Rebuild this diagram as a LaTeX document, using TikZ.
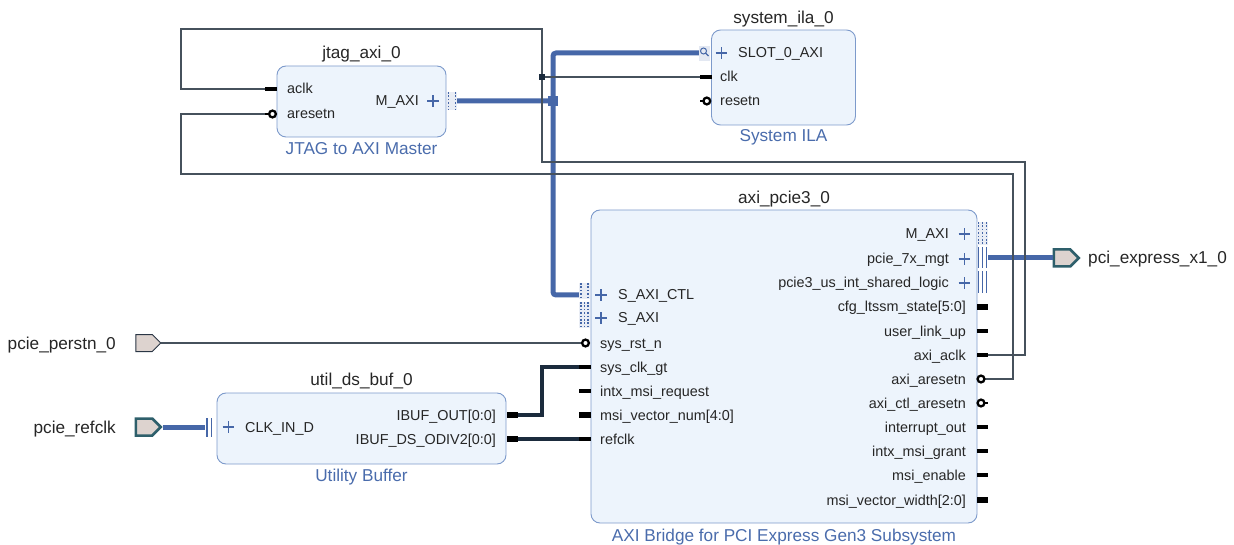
\documentclass[tikz,border=0pt]{standalone}
\usepackage{fontspec}
\setmainfont{Liberation Sans}
\usetikzlibrary{shapes.symbols}
\definecolor{boxfill}{HTML}{EDF4FC}
\definecolor{boxline}{HTML}{7D9ACB}
\definecolor{busblue}{HTML}{4667A8}
\definecolor{subblue}{HTML}{4A6CAC}
\definecolor{wiregray}{HTML}{46515C}
\definecolor{netnavy}{HTML}{1B2B3D}
\definecolor{portfill}{HTML}{DDD3CF}
\definecolor{portteal}{HTML}{2E5F6B}
\definecolor{portdark}{HTML}{2A3645}
\begin{document}
\begin{tikzpicture}[x=1pt,y=-1pt]
    \tikzset{ipblock/.style = {draw=boxline, fill=boxfill, line width=0.9pt, rounded corners=9pt}}
    \tikzset{ipname/.style = {font=\fontsize{17.2}{19}\selectfont, text=black!85, inner sep=0pt, text height=12pt, text depth=0pt}}
    \tikzset{iptype/.style = {ipname, text=subblue}}
    \tikzset{pinl/.style = {anchor=west, font=\fontsize{14.4}{16}\selectfont, text=black!85, inner sep=0pt, text height=10pt, text depth=0pt}}
    \tikzset{pinr/.style = {pinl, anchor=east}}
    \tikzset{stub/.style = {draw=black, line width=3.4pt}}
    \tikzset{vstub/.style = {draw=black, line width=5.6pt}}
    \tikzset{bubble/.style = {draw=black, line width=2.3pt, fill=white}}
    \tikzset{plusmk/.style = {draw=busblue, line width=1.5pt}}
    \tikzset{busdots/.style = {draw=busblue, line width=1.7pt, dash pattern=on 1.7pt off 1.7pt}}
    \tikzset{busbars/.style = {draw=busblue, line width=1.5pt}}
    \tikzset{wire/.style = {draw=wiregray, line width=1.2pt}}
    \tikzset{netw/.style = {draw=netnavy, line width=3.2pt}}
    \tikzset{busw/.style = {draw=busblue, line width=5pt, rounded corners=3pt}}
    \tikzset{port/.style = {shape=signal, signal to=east, fill=portfill, minimum width=25pt, minimum height=17pt, inner sep=0pt}}
    \tikzset{portlbl/.style = {ipname}}
    \useasboundingbox (0,0) rectangle (1234,545);

    \node[ipblock, minimum width=169pt, minimum height=71pt] (jtag) at (361.5,101.5) {};
    \node[ipblock, minimum width=144pt, minimum height=95pt] (ila) at (783.5,77.5) {};
    \node[ipblock, minimum width=386pt, minimum height=313pt] (pcie) at (784,366.5) {};
    \node[ipblock, minimum width=289pt, minimum height=71pt] (buf) at (361.5,428.5) {};

    \node[ipname] (jtagname) at (361.5,53) {jtag\_axi\_0};
    \node[iptype] (jtagtype) at (361.5,149) {JTAG to AXI Master};
    \node[ipname] (ilaname) at (783.5,18) {system\_ila\_0};
    \node[iptype] (ilatype) at (783.5,136) {System ILA};
    \node[ipname] (pciename) at (784,198) {axi\_pcie3\_0};
    \node[iptype] (pcietype) at (784,535) {AXI Bridge for PCI Express Gen3 Subsystem};
    \node[ipname] (bufname) at (361.5,379) {util\_ds\_buf\_0};
    \node[iptype] (buftype) at (361.5,475) {Utility Buffer};

    \node[port, draw=portdark, line width=1pt] (perstn) at (144,343) {};
    \node[port, draw=portteal, line width=2.5pt] (refclk) at (144,427) {};
    \node[port, draw=portteal, line width=2.5pt] (pciex) at (1062,258) {};
    \node[portlbl, anchor=east] (perstnlbl) at (116,343) {pcie\_perstn\_0};
    \node[portlbl, anchor=east] (refclklbl) at (116,427) {pcie\_refclk};
    \node[portlbl, anchor=west] (pciexlbl) at (1088,258) {pci\_express\_x1\_0};

    \node[pinl] (jtagaclkl) at (287,89) {aclk};
    \node[pinl] (jtagarstl) at (287,114) {aresetn};
    \node[pinr] (jtagmaxil) at (419,101) {M\_AXI};
    \node[pinl] (ilaslotl) at (738,53) {SLOT\_0\_AXI};
    \node[pinl] (ilaclkl) at (720,77) {clk};
    \node[pinl] (ilarstl) at (720,101) {resetn};
    \node[pinl] (bufclkl) at (245,427) {CLK\_IN\_D};
    \node[pinr] (bufoutl) at (496,415) {IBUF\_OUT[0:0]};
    \node[pinr] (bufodivl) at (496,439) {IBUF\_DS\_ODIV2[0:0]};

    \node[pinl] (sctll) at (618,295) {S\_AXI\_CTL};
    \node[pinl] (saxil) at (618,318) {S\_AXI};
    \node[pinl] (rstl) at (600,343) {sys\_rst\_n};
    \node[pinl] (sysclkl) at (600,367) {sys\_clk\_gt};
    \node[pinl] (intxreql) at (600,391) {intx\_msi\_request};
    \node[pinl] (vecnuml) at (600,415) {msi\_vector\_num[4:0]};
    \node[pinl] (refclkl) at (600,439) {refclk};

    \node[pinr] (maxil) at (949,234) {M\_AXI};
    \node[pinr] (mgtl) at (949,259) {pcie\_7x\_mgt};
    \node[pinr] (sharedl) at (949,283) {pcie3\_us\_int\_shared\_logic};
    \node[pinr] (ltssml) at (966,307) {cfg\_ltssm\_state[5:0]};
    \node[pinr] (linkupl) at (966,331) {user\_link\_up};
    \node[pinr] (aclkl) at (966,355) {axi\_aclk};
    \node[pinr] (arstl) at (966,379) {axi\_aresetn};
    \node[pinr] (ctlrstl) at (966,403) {axi\_ctl\_aresetn};
    \node[pinr] (intoutl) at (966,427) {interrupt\_out};
    \node[pinr] (grantl) at (966,451) {intx\_msi\_grant};
    \node[pinr] (msienl) at (966,475) {msi\_enable};
    \node[pinr] (vecwidthl) at (966,500) {msi\_vector\_width[2:0]};

    \coordinate (jtag-aclk) at (265,89);
    \coordinate (jtag-arst) at (265,114);
    \coordinate (jtag-maxi) at (457,101);
    \coordinate (ila-slot) at (699,53);
    \coordinate (ila-clk) at (700,77);
    \coordinate (buf-clk) at (205,427);
    \coordinate (buf-out) at (518,415);
    \coordinate (buf-odiv) at (518,439);
    \coordinate (pcie-sctl) at (579,295);
    \coordinate (pcie-rst) at (582,343);
    \coordinate (pcie-sysclk) at (579,367);
    \coordinate (pcie-refclk) at (579,439);
    \coordinate (pcie-mgt) at (988,258);
    \coordinate (pcie-aclk) at (988,355);
    \coordinate (pcie-arst) at (985,379);
    \coordinate (clkjoin) at (542,77);
    \coordinate (busjoin) at (553,101);

    \draw[busw] (jtag-maxi) -- (busjoin) |- (ila-slot);
    \draw[busw] (busjoin) |- (pcie-sctl);
    \draw[busw] (refclk.east) -- (buf-clk);
    \draw[busw] (pcie-mgt) -- (pciex.west);
    \fill[busblue] (busjoin) ++(-5,-5) rectangle ++(10,10);

    \draw[wire] (pcie-aclk) -| (1025,162) -| (clkjoin);
    \draw[wire] (clkjoin) -- (ila-clk);
    \draw[wire] (clkjoin) |- (181,29) |- (jtag-aclk);
    \draw[wire] (pcie-arst) -| (1013,174) -| (181,114) -- (jtag-arst);
    \draw[wire] (perstn.east) -- (pcie-rst);
    \fill[netnavy] (clkjoin) ++(-3,-3) rectangle ++(6,6);

    \draw[netw] (buf-out) -- (542,415) |- (pcie-sysclk);
    \draw[netw] (buf-odiv) -- (pcie-refclk);

    % pin stubs
    \draw[stub] (265,89) -- (277,89);
    \draw[stub] (700,77) -- (711.5,77);
    \draw[vstub] (507,415) -- (518,415);
    \draw[vstub] (507,439) -- (518,439);
    \foreach \y in {367,391,439}
        \draw[stub] (579,\y) -- (591,\y);
    \draw[vstub] (579,415) -- (591,415);
    \foreach \y in {331,355,427,451,475}
        \draw[stub] (977,\y) -- (988,\y);
    \foreach \y in {307,500}
        \draw[vstub] (977,\y) -- (988,\y);

    % reset bubbles
    \draw[black, line width=2.6pt] (265,114) -- (270,114);
    \draw[bubble] (272.5,114) circle (3.4);
    \draw[black, line width=2.6pt] (700,101) -- (704,101);
    \draw[bubble] (706.8,101) circle (3.4);
    \draw[bubble] (585.5,343) circle (3.4);
    \draw[bubble] (981,379) circle (3.4);
    \draw[bubble] (981,403) circle (3.4);
    \draw[black, line width=2.6pt] (984,403) -- (988,403);

    % bus interface marks
    \foreach \x/\y in {433/101, 721.5/53, 601/295, 601/318, 964.5/234, 964.5/259, 964.5/283, 228.5/427}
        \draw[plusmk] (\x-5.8,\y) -- (\x+5.8,\y) (\x,\y-5.8) -- (\x,\y+5.8);
    \fill[busblue!12] (447,92) rectangle (457,110);
    \foreach \x in {448.5,455.5}
        \draw[busdots] (\x,92) -- (\x,110);
    \fill[busblue!12] (579,283) rectangle (590,299);
    \foreach \x in {581,588}
        \draw[busdots] (\x,283) -- (\x,299);
    \fill[busblue!12] (579,302) rectangle (590,328);
    \foreach \x in {581,584.5,588}
        \draw[busdots] (\x,302) -- (\x,328);
    \fill[busblue!12] (977,222) rectangle (988,245);
    \foreach \x in {978.5,982.5,986.5}
        \draw[busdots] (\x,222) -- (\x,245);
    \foreach \x in {978.5,982.5,986.5}
        \draw[busbars] (\x,247) -- (\x,268) (\x,271) -- (\x,293);
    \foreach \x in {207,211.5}
        \draw[busbars] (\x,418) -- (\x,437);

    % debug marker on SLOT_0_AXI
    \fill[busblue!15] (699,46) rectangle (710,61);
    \draw[busblue, line width=1pt] (703.5,51) circle (3);
    \draw[busblue, line width=1.2pt] (705.6,53.1) -- (708.5,56);
\end{tikzpicture}
\end{document}
